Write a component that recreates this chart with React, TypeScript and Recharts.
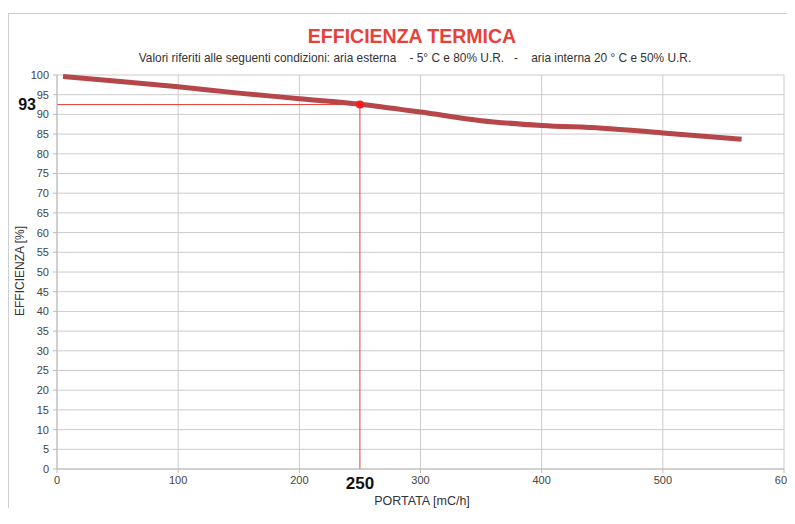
import { LineChart, Line, XAxis, YAxis, CartesianGrid, ReferenceLine, ReferenceDot } from "recharts"

const portata = [5, 50, 100, 150, 200, 250, 300, 350, 400, 450, 500, 565]
const efficienza = [99.6, 98.4, 97.0, 95.4, 94.0, 92.6, 90.6, 88.4, 87.2, 86.5, 85.3, 83.7]
const xTicks = [0, 100, 200, 300, 400, 500, 600]
const yTicks = [0, 5, 10, 15, 20, 25, 30, 35, 40, 45, 50, 55, 60, 65, 70, 75, 80, 85, 90, 95, 100]

const puntoX = 250
const puntoY = 92.5
const puntoLabelX = "250"
const puntoLabelY = "93"

const data = portata.map((p, i) => ({ portata: p, efficienza: efficienza[i] }))

const font = "'Liberation Sans', Arial, sans-serif"
const red = "#e8413a"

export default function App() {
  return (
    <div style={{ position: "relative", width: 787, height: 500, fontFamily: font }}>
      <div
        style={{
          position: "absolute",
          left: 0,
          top: 5,
          width: 786,
          height: 494,
          borderTop: "1px solid #cfcfcf",
          borderLeft: "1px solid #cfcfcf",
        }}
      />
      <div
        style={{
          position: "absolute",
          left: 104,
          width: 600,
          top: 17,
          textAlign: "center",
          color: red,
          fontWeight: "bold",
          fontSize: 19.5,
        }}
      >
        EFFICIENZA TERMICA
      </div>
      <div
        style={{
          position: "absolute",
          left: 57,
          width: 700,
          top: 43,
          textAlign: "center",
          color: "#333",
          fontSize: 11.9,
          whiteSpace: "pre",
        }}
      >
        {"Valori riferiti alle seguenti condizioni: aria esterna    - 5° C e 80% U.R.   -    aria interna 20 ° C e 50% U.R."}
      </div>
      <div
        style={{
          position: "absolute",
          left: 12 - 60,
          top: 264 - 8,
          width: 120,
          textAlign: "center",
          fontSize: 12,
          color: "#333",
          transform: "rotate(-90deg)",
        }}
      >
        EFFICIENZA [%]
      </div>
      <div
        style={{
          position: "absolute",
          left: 414 - 80,
          top: 486,
          width: 160,
          textAlign: "center",
          fontSize: 12.5,
          color: "#333",
        }}
      >
        PORTATA [mC/h]
      </div>
      <div style={{ position: "absolute", left: 0, top: 0, width: 787, height: 500, overflow: "hidden" }}>
        <LineChart
          width={810}
          height={500}
          data={data}
          margin={{ top: 67, right: 34, left: 0, bottom: 9 }}
        >
          <CartesianGrid stroke="#cccccc" strokeWidth={1} />
          <XAxis
            dataKey="portata"
            type="number"
            domain={[0, 600]}
            ticks={xTicks}
            height={30}
            tickSize={4}
            tickMargin={3}
            stroke="#bbbbbb"
            tick={{ fontSize: 11, fill: "#444", fontFamily: font }}
            interval={0}
          />
          <YAxis
            type="number"
            domain={[0, 100]}
            ticks={yTicks}
            width={49}
            tickSize={4}
            tickMargin={4}
            stroke="#bbbbbb"
            tick={{ fontSize: 11, fill: "#444", fontFamily: font }}
            interval={0}
          />
          <ReferenceLine
            segment={[
              { x: 0, y: puntoY },
              { x: puntoX, y: puntoY },
            ]}
            stroke={red}
            strokeWidth={1}
            label={{
              value: puntoLabelY,
              position: "left",
              offset: 21,
              fill: "#111",
              fontSize: 16,
              fontWeight: "bold",
              fontFamily: font,
            }}
          />
          <ReferenceLine
            segment={[
              { x: puntoX, y: 0 },
              { x: puntoX, y: puntoY },
            ]}
            stroke={red}
            strokeWidth={1}
            label={{
              value: puntoLabelX,
              position: "bottom",
              offset: 8,
              fill: "#111",
              fontSize: 17,
              fontWeight: "bold",
              fontFamily: font,
            }}
          />
          <Line
            type="monotone"
            dataKey="efficienza"
            stroke="#b5474a"
            strokeWidth={5}
            dot={false}
            isAnimationActive={false}
          />
          <ReferenceDot x={puntoX} y={puntoY} r={4} fill="#ff1a1a" stroke="none" />
        </LineChart>
      </div>
    </div>
  )
}
